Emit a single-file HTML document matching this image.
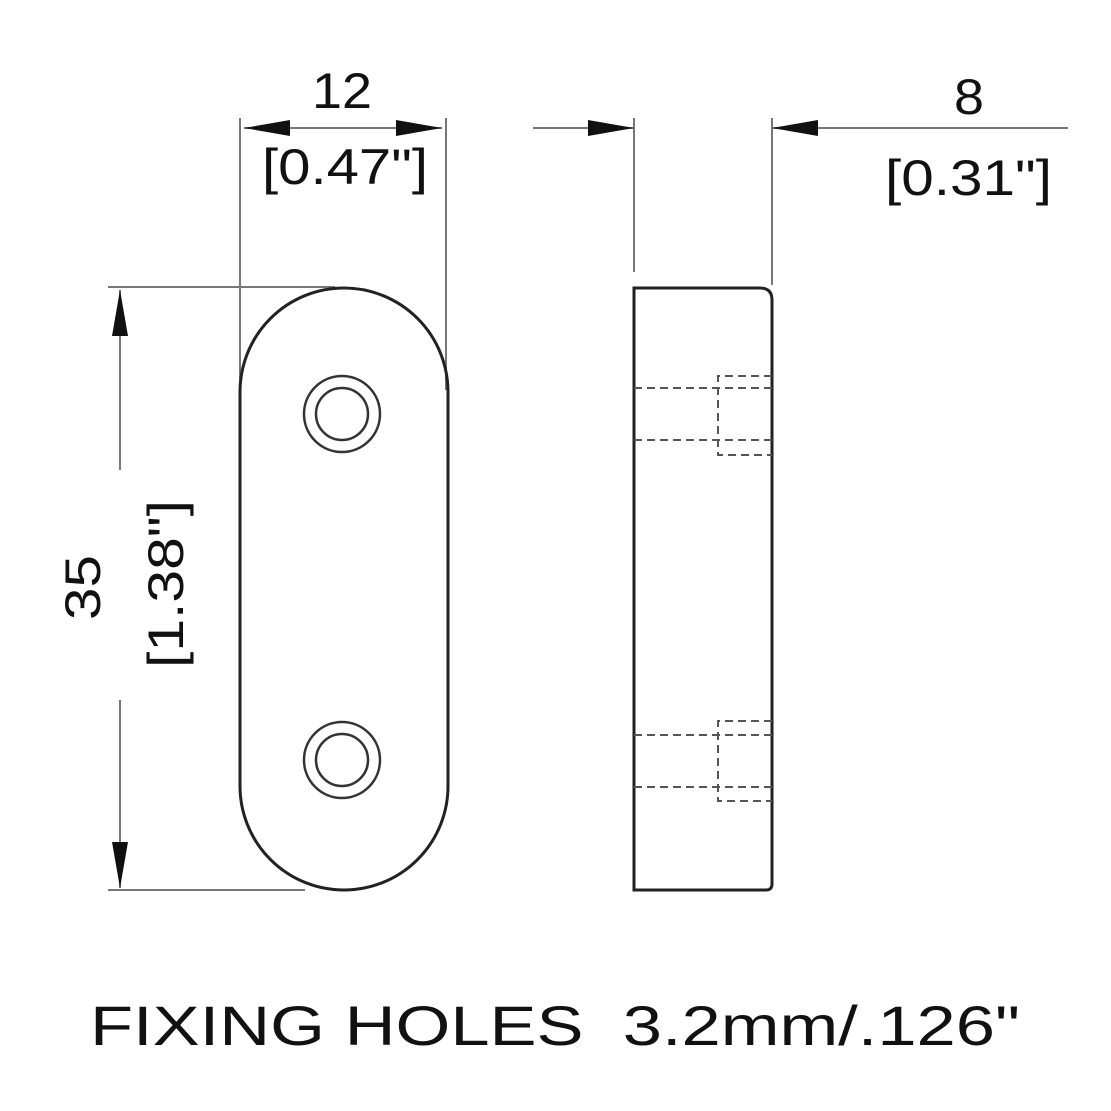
<!DOCTYPE html>
<html><head><style>body{margin:0;background:#fff}svg{display:block}</style></head><body>
<svg width="1111" height="1111" viewBox="0 0 1111 1111" xmlns="http://www.w3.org/2000/svg" font-family="Liberation Sans, sans-serif" fill="none">
<g stroke="#777" stroke-width="2">
<line x1="240" y1="118" x2="240" y2="380"/>
<line x1="446" y1="118" x2="446" y2="390"/>
<line x1="244" y1="128" x2="442" y2="128"/>
<line x1="108" y1="287" x2="335" y2="287"/>
<line x1="108" y1="890" x2="305" y2="890"/>
<line x1="120" y1="290" x2="120" y2="470"/>
<line x1="120" y1="700" x2="120" y2="888"/>
<line x1="634" y1="118" x2="634" y2="272"/>
<line x1="772" y1="118" x2="772" y2="285"/>
<line x1="533" y1="128" x2="634" y2="128"/>
<line x1="772" y1="128" x2="1068" y2="128"/>
</g>
<g fill="#111">
<polygon points="244,128 290,120 290,136"/>
<polygon points="442,128 396,120 396,136"/>
<polygon points="120,290 112,336 128,336"/>
<polygon points="120,888 112,842 128,842"/>
<polygon points="634,128 588,120 588,136"/>
<polygon points="772,128 818,120 818,136"/>
</g>
<g stroke="#222" stroke-width="3">
<rect x="240" y="288" width="208" height="602" rx="104" ry="104"/>
<path d="M634,288 H760 Q772,288 772,300 V884 Q772,890 766,890 H634 Z"/>
</g>
<g stroke="#333" stroke-width="2.5">
<circle cx="342" cy="414" r="38"/><circle cx="342" cy="414" r="26"/>
<circle cx="342" cy="760" r="38"/><circle cx="342" cy="760" r="26"/>
</g>
<g stroke="#555" stroke-width="2" stroke-dasharray="8,5">
<line x1="634" y1="388" x2="772" y2="388"/>
<line x1="634" y1="440" x2="772" y2="440"/>
<polyline points="772,376 718,376 718,455 772,455"/>
<line x1="634" y1="735" x2="772" y2="735"/>
<line x1="634" y1="787" x2="772" y2="787"/>
<polyline points="772,721 718,721 718,801 772,801"/>
</g>
<g fill="#111" font-size="50" lengthAdjust="spacingAndGlyphs">
<text x="312" y="108" textLength="60" lengthAdjust="spacingAndGlyphs">12</text>
<text x="262" y="184" textLength="166" lengthAdjust="spacingAndGlyphs">[0.47"]</text>
<text x="954" y="114" textLength="30" lengthAdjust="spacingAndGlyphs">8</text>
<text x="885" y="195" textLength="167" lengthAdjust="spacingAndGlyphs">[0.31"]</text>
<text transform="translate(100,620) rotate(-90)" textLength="65" lengthAdjust="spacingAndGlyphs">35</text>
<text transform="translate(183,668) rotate(-90)" textLength="168" lengthAdjust="spacingAndGlyphs">[1.38"]</text>
<text x="90" y="1045" font-size="56" textLength="930" lengthAdjust="spacingAndGlyphs" xml:space="preserve">FIXING HOLES  3.2mm/.126"</text>
</g>
</svg>
</body></html>
